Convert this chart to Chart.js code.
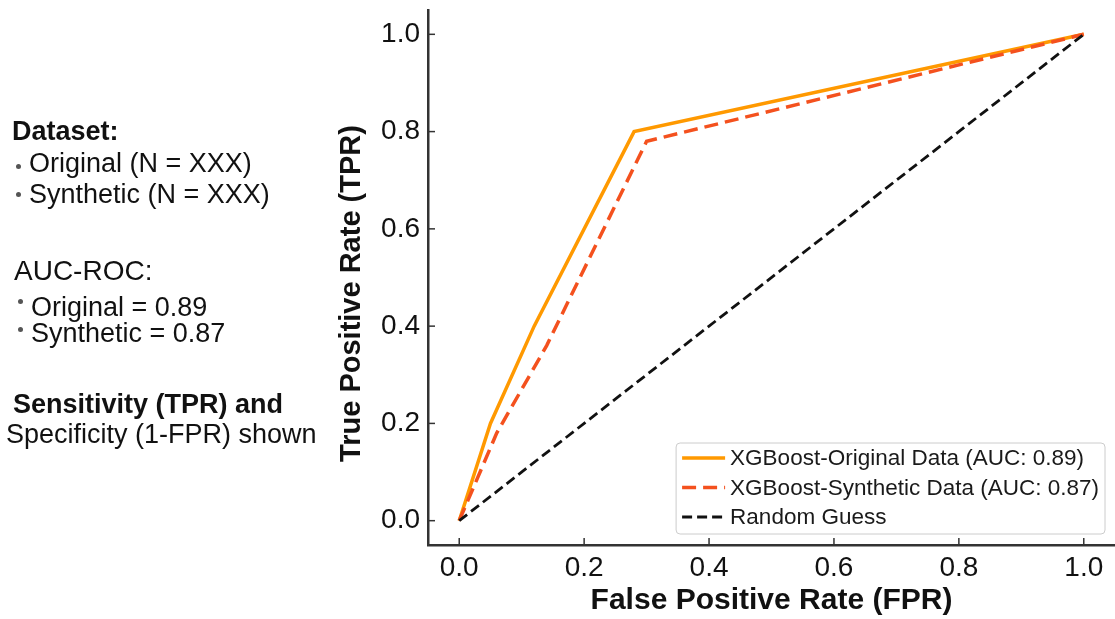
<!DOCTYPE html>
<html><head><meta charset="utf-8">
<script src="https://cdn.jsdelivr.net/npm/chart.js@4.4.1/dist/chart.umd.min.js"></script>
<style>
html,body{margin:0;padding:0;background:#fff;}
#wrap{position:relative;width:1115px;height:619px;overflow:hidden;background:#fff;}
#c{position:absolute;left:0;top:0;}
.t{position:absolute;font-family:"Liberation Sans",Arial,sans-serif;font-size:27px;line-height:32px;color:#111;white-space:nowrap;}
.b{font-weight:bold;}
.dot{position:absolute;width:5px;height:5px;border-radius:50%;background:#555;}
</style></head><body>
<div id="wrap">
<canvas id="c" width="1115" height="619"></canvas>
<div class="t b" style="left:12px;top:115px">Dataset:</div>
<div class="dot" style="left:16px;top:164px"></div>
<div class="t" style="left:29px;top:147px">Original (N = XXX)</div>
<div class="dot" style="left:16px;top:192px"></div>
<div class="t" style="left:29px;top:178px">Synthetic (N = XXX)</div>
<div class="t" style="left:14px;top:255px;font-size:28px">AUC-ROC:</div>
<div class="dot" style="left:18px;top:299px"></div>
<div class="t" style="left:31px;top:291px">Original = 0.89</div>
<div class="dot" style="left:18px;top:327px"></div>
<div class="t" style="left:31px;top:317px">Synthetic = 0.87</div>
<div class="t b" style="left:13px;top:388px">Sensitivity (TPR) and</div>
<div class="t" style="left:6px;top:418px">Specificity (1-FPR) shown</div>
</div>
<script>
const fprOriginal = [0, 0.05, 0.12, 0.28, 1.0];
const tprOriginal = [0, 0.20, 0.40, 0.80, 1.0];
const fprSynthetic = [0, 0.06, 0.14, 0.30, 1.0];
const tprSynthetic = [0, 0.18, 0.36, 0.78, 1.0];
const fprRandom = [0, 1.0];
const tprRandom = [0, 1.0];
const xTicks = [0, 0.2, 0.4, 0.6, 0.8, 1.0];
const yTicks = [0, 0.2, 0.4, 0.6, 0.8, 1.0];
const seriesLabels = ['XGBoost-Original Data (AUC: 0.89)', 'XGBoost-Synthetic Data (AUC: 0.87)', 'Random Guess'];
const xTitle = 'False Positive Rate (FPR)';
const yTitle = 'True Positive Rate (TPR)';

function pts(xs, ys) { return xs.map((x, i) => ({x: x, y: ys[i]})); }

const FONT = '"Liberation Sans", Arial, sans-serif';

const insideTicks = {
  id: 'insideTicks',
  afterDraw(chart) {
    const {ctx, chartArea: a, scales: {x, y}} = chart;
    ctx.save();
    ctx.strokeStyle = '#333';
    ctx.lineWidth = 1.5;
    x.ticks.forEach(t => {
      const px = x.getPixelForValue(t.value);
      ctx.beginPath(); ctx.moveTo(px, a.bottom); ctx.lineTo(px, a.bottom - 7); ctx.stroke();
    });
    y.ticks.forEach(t => {
      const py = y.getPixelForValue(t.value);
      ctx.beginPath(); ctx.moveTo(a.left, py); ctx.lineTo(a.left + 7, py); ctx.stroke();
    });
    // y axis title
    ctx.translate(a.left - 76.5, (a.top + a.bottom) / 2 + 16);
    ctx.rotate(-Math.PI / 2);
    ctx.font = 'bold 29px ' + FONT;
    ctx.fillStyle = '#111';
    ctx.textAlign = 'center';
    ctx.textBaseline = 'middle';
    ctx.fillText(yTitle, 0, 0);
    ctx.restore();
  }
};

const boxLegend = {
  id: 'boxLegend',
  afterDatasetsDraw(chart) {
    const {ctx, chartArea: a} = chart;
    const items = chart.data.datasets;
    ctx.save();
    ctx.font = '22.5px ' + FONT;
    const tw = Math.max(...items.map(d => ctx.measureText(d.label).width));
    const sw = 43, gap = 5, padL = 6, padR = 6, rowH = 29.5, padT = 15;
    const w = padL + sw + gap + tw + padR, h = 91;
    const bx = a.right - 10 - w, by = a.bottom - 11 - h;
    ctx.beginPath();
    if (ctx.roundRect) ctx.roundRect(bx, by, w, h, 4); else ctx.rect(bx, by, w, h);
    ctx.fillStyle = 'rgba(255,255,255,0.85)';
    ctx.fill();
    ctx.strokeStyle = '#cccccc';
    ctx.lineWidth = 1;
    ctx.stroke();
    items.forEach((d, i) => {
      const cy = by + padT + i * rowH;
      ctx.strokeStyle = d.borderColor;
      ctx.lineWidth = d.borderWidth;
      ctx.setLineDash(d.borderDash || []);
      ctx.beginPath(); ctx.moveTo(bx + padL, cy); ctx.lineTo(bx + padL + sw, cy); ctx.stroke();
      ctx.setLineDash([]);
      ctx.fillStyle = '#1a1a1a';
      ctx.textAlign = 'left';
      ctx.textBaseline = 'middle';
      ctx.fillText(d.label, bx + padL + sw + gap, cy + 1);
    });
    ctx.restore();
  }
};

new Chart(document.getElementById('c'), {
  type: 'line',
  data: {
    datasets: [
      {label: seriesLabels[0], data: pts(fprOriginal, tprOriginal), borderColor: '#ff9900', borderWidth: 3.5, pointRadius: 0, tension: 0, fill: false, order: 3},
      {label: seriesLabels[1], data: pts(fprSynthetic, tprSynthetic), borderColor: '#f4511e', borderWidth: 3.5, borderDash: [14, 7], pointRadius: 0, tension: 0, fill: false, order: 2},
      {label: seriesLabels[2], data: pts(fprRandom, tprRandom), borderColor: '#111111', borderWidth: 2.8, borderDash: [10, 5], pointRadius: 0, tension: 0, fill: false, order: 1}
    ]
  },
  options: {
    responsive: false,
    animation: false,
    layout: {padding: {left: 330, top: 10, right: 0, bottom: 0}},
    plugins: {legend: {display: false}, tooltip: {enabled: false}},
    scales: {
      x: {
        type: 'linear', min: -0.05, max: 1.05,
        border: {display: true, color: '#333', width: 2.5},
        grid: {display: false, drawTicks: false},
        ticks: {font: {family: FONT, size: 28}, color: '#111', padding: 6, autoSkip: false, maxRotation: 0,
                callback: v => Number(v).toFixed(1)},
        afterBuildTicks: s => { s.ticks = xTicks.map(v => ({value: v})); },
        afterFit: s => { s.height = 74; s.paddingLeft = 0; s.paddingRight = 0; },
        title: {display: true, text: xTitle, color: '#111', font: {family: FONT, size: 30, weight: 'bold'}, padding: {top: 0, bottom: 0}}
      },
      y: {
        type: 'linear', min: -0.05, max: 1.05,
        border: {display: true, color: '#333', width: 2.5},
        grid: {display: false, drawTicks: false},
        ticks: {font: {family: FONT, size: 28}, color: '#111', padding: 8, autoSkip: false,
                callback: v => Number(v).toFixed(1)},
        afterBuildTicks: s => { s.ticks = yTicks.map(v => ({value: v})); },
        afterFit: s => { s.width = 98; s.paddingTop = 0; s.paddingBottom = 0; },
        title: {display: false}
      }
    }
  },
  plugins: [insideTicks, boxLegend]
});
</script>
</body></html>
